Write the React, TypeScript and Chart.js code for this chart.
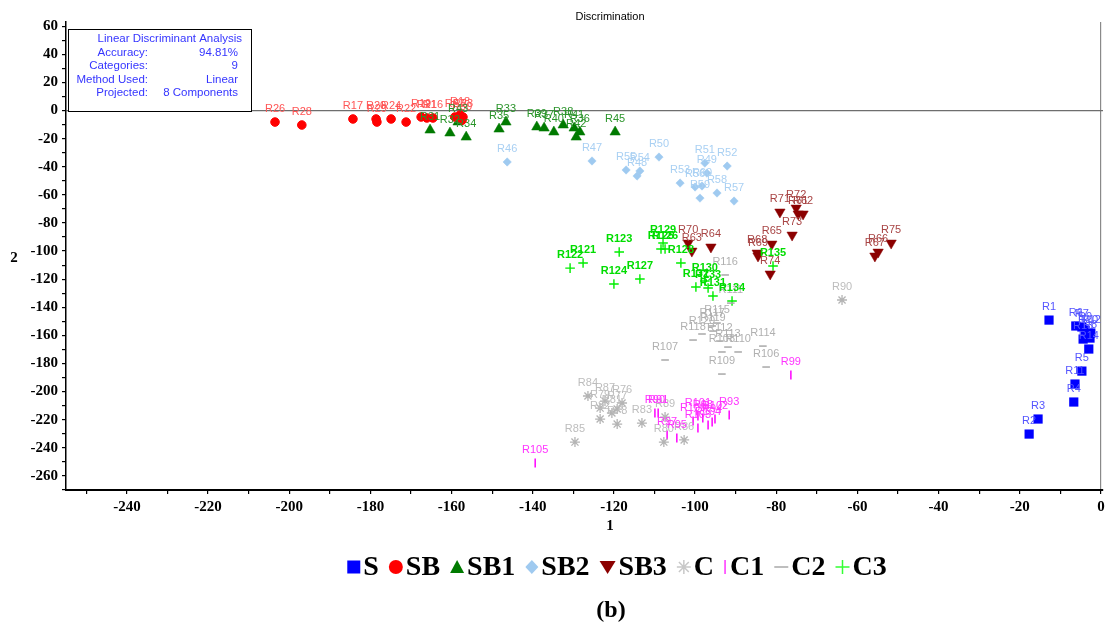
import React, { useEffect, useRef } from "react";
import { Chart, registerables } from "chart.js";

Chart.register(...registerables);

// ---------- DATA ----------
// S
const sNames = ["R1", "R6", "R7", "R9", "R10", "R12", "R13", "R8", "R14", "R5", "R11", "R4", "R3", "R2"];
const sX = [-12.8, -6.2, -4.7, -3.9, -3.2, -2.5, -4.4, -2.7, -3.0, -4.7, -6.4, -6.7, -15.5, -17.7];
const sY = [-149.1, -153.3, -154.0, -156.2, -158.3, -158.3, -162.6, -161.9, -169.7, -185.4, -194.6, -207.4, -219.5, -230.2];

// SB
const sbNames = ["R26", "R28", "R17", "R20", "R29", "R24", "R22", "R19", "R21", "R16", "R27", "R18", "R30", "R23"];
const sbX = [-203.5, -196.9, -184.3, -178.6, -178.4, -174.9, -171.2, -167.5, -166.1, -164.6, -159.2, -157.9, -157.4, -157.2];
const sbY = [-8.2, -10.3, -6.0, -6.0, -8.2, -6.0, -8.2, -4.6, -5.3, -5.3, -4.6, -3.2, -6.8, -4.6];

// SB1
const sb1Names = ["R31", "R32", "R43", "R34", "R35", "R33", "R39", "R37", "R40", "R38", "R41", "R42", "R36", "R45"];
const sb1X = [-165.3, -160.4, -158.4, -156.4, -148.3, -146.6, -139.0, -137.2, -134.8, -132.5, -129.8, -129.3, -128.4, -119.7];
const sb1Y = [-13.9, -16.0, -8.2, -18.9, -13.2, -8.2, -11.7, -12.5, -15.3, -10.3, -12.5, -18.9, -15.3, -15.3];

// SB2
const sb2Names = ["R46", "R47", "R50", "R55", "R48", "R54", "R53", "R51", "R49", "R52", "R56", "R60", "R59", "R58", "R57"];
const sb2X = [-146.3, -125.4, -108.9, -117.0, -114.3, -113.6, -103.7, -97.6, -97.1, -92.1, -100.0, -98.3, -98.8, -94.6, -90.4];
const sb2Y = [-36.6, -35.9, -33.1, -42.3, -46.6, -43.0, -51.6, -37.4, -44.5, -39.5, -54.4, -53.7, -62.3, -58.7, -64.4];

// SB3
const sb3Names = ["R70", "R63", "R64", "R65", "R73", "R68", "R69", "R74", "R75", "R66", "R67", "R71", "R72", "R61", "R62"];
const sb3X = [-101.7, -100.8, -96.1, -81.1, -76.1, -84.7, -84.5, -81.5, -51.7, -54.9, -55.7, -79.1, -75.1, -74.6, -73.4];
const sb3Y = [-94.3, -100.0, -97.1, -95.0, -88.6, -101.4, -103.5, -116.3, -94.3, -100.7, -103.5, -72.2, -69.4, -73.6, -73.6];

// C
const cNames = ["R90", "R84", "R87", "R76", "R79", "R81", "R77", "R82", "R78", "R83", "R85", "R80", "R86", "R89"];
const cX = [-63.8, -126.4, -122.2, -118.0, -123.4, -120.5, -119.2, -123.4, -119.2, -113.1, -129.6, -107.7, -102.7, -107.4];
const cY = [-134.8, -203.1, -206.7, -208.1, -211.7, -215.2, -212.4, -219.5, -223.1, -222.4, -235.9, -235.9, -234.4, -218.1];

// C1
const c1Names = ["R90", "R91", "R97", "R95", "R100", "R103", "R101", "R104", "R102", "R93", "R99", "R105", "R98", "R94"];
const c1X = [-109.9, -109.1, -106.9, -104.5, -100.5, -99.3, -99.3, -96.8, -95.1, -91.6, -76.4, -139.4, -98.1, -95.8];
const c1Y = [-215.2, -215.2, -230.9, -233.0, -220.9, -225.9, -217.4, -223.8, -219.5, -216.7, -188.2, -250.8, -218.8, -221.6];

// C2
const c2Names = ["R116", "R111", "R117", "R115", "R119", "R112", "R118", "R120", "R113", "R108", "R110", "R114", "R106", "R107", "R109"];
const c2X = [-92.6, -91.2, -95.8, -94.6, -95.6, -93.9, -100.5, -98.3, -91.9, -93.4, -89.4, -83.3, -82.5, -107.4, -93.4];
const c2Y = [-117.0, -137.0, -153.3, -151.2, -156.9, -164.0, -163.3, -159.0, -168.3, -171.8, -171.8, -167.6, -182.5, -177.5, -187.5];

// C3
const c3Names = ["R122", "R121", "R123", "R124", "R127", "R129", "R125", "R126", "R128", "R132", "R130", "R133", "R131", "R134", "R135"];
const c3X = [-130.8, -127.6, -118.7, -120.0, -113.6, -107.9, -108.4, -107.4, -103.5, -99.8, -97.6, -96.8, -95.6, -90.9, -80.8];
const c3Y = [-112.1, -108.5, -100.7, -123.4, -119.9, -94.3, -98.5, -98.5, -108.5, -125.6, -121.3, -126.3, -132.0, -135.5, -110.6];

const seriesNames = ["S", "SB", "SB1", "SB2", "SB3", "C", "C1", "C2", "C3"];

const infoTitle = "Linear Discriminant Analysis";
const infoKeys = ["Accuracy:", "Categories:", "Method Used:", "Projected:"];
const infoValues = ["94.81%", "9", "Linear", "8 Components"];

// ---------- STYLES ----------
type Series = {
  label: string;
  names: string[];
  xs: number[];
  ys: number[];
  style: string;
  radius: number;
  rot: number;
  fill: string;
  stroke: string;
  bw: number;
  labelColor: string;
  labelBold: boolean;
  legend: string;
};

const series: Series[] = [
  { label: seriesNames[0], names: sNames, xs: sX, ys: sY, style: "rect", radius: 6.5, rot: 0, fill: "#0000ff", stroke: "#0000ff", bw: 0, labelColor: "#5555ff", labelBold: false, legend: "square" },
  { label: seriesNames[1], names: sbNames, xs: sbX, ys: sbY, style: "circle", radius: 4.3, rot: 0, fill: "#ff0000", stroke: "#ff0000", bw: 1, labelColor: "#ff5555", labelBold: false, legend: "circle" },
  { label: seriesNames[2], names: sb1Names, xs: sb1X, ys: sb1Y, style: "triangle", radius: 6, rot: 0, fill: "#007a00", stroke: "#007a00", bw: 0.5, labelColor: "#2a942a", labelBold: false, legend: "tri" },
  { label: seriesNames[3], names: sb2Names, xs: sb2X, ys: sb2Y, style: "rectRot", radius: 4.2, rot: 0, fill: "#9fcaf0", stroke: "#9fcaf0", bw: 0.5, labelColor: "#a9d0f3", labelBold: false, legend: "diamond" },
  { label: seriesNames[4], names: sb3Names, xs: sb3X, ys: sb3Y, style: "triangle", radius: 6, rot: 180, fill: "#8b0000", stroke: "#8b0000", bw: 0.5, labelColor: "#a84444", labelBold: false, legend: "tridown" },
  { label: seriesNames[5], names: cNames, xs: cX, ys: cY, style: "star", radius: 5, rot: 0, fill: "#b4b4b4", stroke: "#b4b4b4", bw: 1.3, labelColor: "#bdbdbd", labelBold: false, legend: "star" },
  { label: seriesNames[6], names: c1Names, xs: c1X, ys: c1Y, style: "line", radius: 4.5, rot: 90, fill: "#ff00ff", stroke: "#ff00ff", bw: 1.5, labelColor: "#ff33ff", labelBold: false, legend: "vbar" },
  { label: seriesNames[7], names: c2Names, xs: c2X, ys: c2Y, style: "line", radius: 3.8, rot: 0, fill: "#a8a8a8", stroke: "#a8a8a8", bw: 1.5, labelColor: "#b0b0b0", labelBold: false, legend: "hbar" },
  { label: seriesNames[8], names: c3Names, xs: c3X, ys: c3Y, style: "cross", radius: 4.8, rot: 0, fill: "#00ff00", stroke: "#00ee00", bw: 1.4, labelColor: "#00dd00", labelBold: true, legend: "plus" },
];

const SERIF = '"Liberation Serif", "Times New Roman", serif';
const SANS = '"Liberation Sans", Arial, sans-serif';

function drawLegendMarker(ctx: CanvasRenderingContext2D, kind: string, x: number, y: number, color: string) {
  ctx.save();
  ctx.fillStyle = color;
  ctx.strokeStyle = color;
  ctx.beginPath();
  switch (kind) {
    case "square":
      ctx.fillRect(x, y - 6.5, 13, 13);
      break;
    case "circle":
      ctx.arc(x + 7, y, 7, 0, Math.PI * 2);
      ctx.fill();
      break;
    case "tri":
      ctx.moveTo(x + 7, y - 7);
      ctx.lineTo(x + 14, y + 6);
      ctx.lineTo(x, y + 6);
      ctx.closePath();
      ctx.fill();
      break;
    case "diamond":
      ctx.moveTo(x + 6.5, y - 7);
      ctx.lineTo(x + 13, y);
      ctx.lineTo(x + 6.5, y + 7);
      ctx.lineTo(x, y);
      ctx.closePath();
      ctx.fill();
      break;
    case "tridown":
      ctx.moveTo(x, y - 6);
      ctx.lineTo(x + 16, y - 6);
      ctx.lineTo(x + 8, y + 7);
      ctx.closePath();
      ctx.fill();
      break;
    case "star": {
      ctx.lineWidth = 1.5;
      const cx = x + 7;
      for (let k = 0; k < 4; k++) {
        const a = (k * Math.PI) / 4;
        ctx.moveTo(cx - Math.cos(a) * 7, y - Math.sin(a) * 7);
        ctx.lineTo(cx + Math.cos(a) * 7, y + Math.sin(a) * 7);
      }
      ctx.stroke();
      break;
    }
    case "vbar":
      ctx.lineWidth = 1.5;
      ctx.moveTo(x + 1, y - 7);
      ctx.lineTo(x + 1, y + 7);
      ctx.stroke();
      break;
    case "hbar":
      ctx.lineWidth = 1.5;
      ctx.moveTo(x, y);
      ctx.lineTo(x + 14, y);
      ctx.stroke();
      break;
    case "plus":
      ctx.lineWidth = 1.5;
      ctx.moveTo(x, y);
      ctx.lineTo(x + 14, y);
      ctx.moveTo(x + 7, y - 7);
      ctx.lineTo(x + 7, y + 7);
      ctx.stroke();
      break;
  }
  ctx.restore();
}

const markerWidth: Record<string, number> = {
  square: 13, circle: 14, tri: 14, diamond: 13, tridown: 16, star: 14, vbar: 3, hbar: 14, plus: 14,
};

const legendColor: Record<string, string> = {
  square: "#0000ff", circle: "#ff0000", tri: "#007a00", diamond: "#9fcaf0", tridown: "#8b0000",
  star: "#c8c8c8", vbar: "#ff33ff", hbar: "#a8a8a8", plus: "#33ff33",
};

const decorPlugin = {
  id: "decor",
  afterDatasetsDraw(chart: any) {
    const ctx: CanvasRenderingContext2D = chart.ctx;
    ctx.save();
    ctx.textAlign = "center";
    ctx.textBaseline = "middle";
    chart.data.datasets.forEach((ds: any, i: number) => {
      const meta = chart.getDatasetMeta(i);
      ctx.fillStyle = ds.labelColor;
      ctx.font = (ds.labelBold ? "bold " : "") + "11px " + SANS;
      meta.data.forEach((el: any, j: number) => {
        ctx.fillText(ds.names[j], el.x, el.y - 13);
      });
    });
    ctx.restore();
  },
  afterDraw(chart: any) {
    const ctx: CanvasRenderingContext2D = chart.ctx;
    ctx.save();
    // title
    ctx.fillStyle = "#000";
    ctx.font = "11px " + SANS;
    ctx.textAlign = "center";
    ctx.textBaseline = "middle";
    ctx.fillText("Discrimination", 610, 17);

    // axis titles
    ctx.font = "bold 15px " + SERIF;
    ctx.fillText("2", 14, 258);
    ctx.fillText("1", 610, 526);

    // info box
    ctx.fillStyle = "#fff";
    ctx.fillRect(68, 29, 183, 82);
    ctx.strokeStyle = "#000";
    ctx.lineWidth = 1;
    ctx.strokeRect(68.5, 29.5, 183, 82);
    ctx.fillStyle = "#3535ff";
    ctx.font = "11.5px " + SANS;
    ctx.textAlign = "right";
    ctx.fillText(infoTitle, 242, 39);
    const rowsY = [52.5, 66, 79.5, 93];
    infoKeys.forEach((k, i) => {
      ctx.fillText(k, 148, rowsY[i]);
      ctx.fillText(infoValues[i], 238, rowsY[i]);
    });

    // legend
    ctx.font = "bold 28px " + SERIF;
    ctx.textAlign = "left";
    ctx.textBaseline = "middle";
    const gapM = 3;
    const gapI = 10;
    let total = 0;
    series.forEach((s, i) => {
      total += markerWidth[s.legend] + gapM + ctx.measureText(s.label).width;
      if (i < series.length - 1) total += gapI;
    });
    let x = 617 - total / 2;
    const ly = 567;
    series.forEach((s) => {
      drawLegendMarker(ctx, s.legend, x, ly, legendColor[s.legend]);
      x += markerWidth[s.legend] + gapM;
      ctx.fillStyle = "#000";
      ctx.fillText(s.label, x, ly + 1);
      x += ctx.measureText(s.label).width + gapI;
    });

    // (b)
    ctx.font = "bold 24px " + SERIF;
    ctx.textAlign = "center";
    ctx.fillText("(b)", 611, 611);
    ctx.restore();
  },
};

export default function App() {
  const canvasRef = useRef<HTMLCanvasElement | null>(null);

  useEffect(() => {
    if (!canvasRef.current) return;
    const datasets = series.map((s) => ({
      label: s.label,
      data: s.xs.map((x, i) => ({ x, y: s.ys[i] })),
      pointStyle: s.style,
      pointRadius: s.radius,
      pointRotation: s.rot,
      pointBackgroundColor: s.fill,
      pointBorderColor: s.stroke,
      pointBorderWidth: s.bw,
      showLine: false,
      names: s.names,
      labelColor: s.labelColor,
      labelBold: s.labelBold,
    }));

    const tickFont = { family: SERIF, size: 15, weight: "bold" as const };

    const chart = new Chart(canvasRef.current, {
      type: "scatter",
      data: { datasets } as any,
      options: {
        animation: false,
        responsive: false,
        devicePixelRatio: 1,
        events: [],
        layout: { padding: { top: 22, right: 7, left: 0, bottom: 0 } },
        plugins: {
          legend: { display: false },
          title: { display: false },
          tooltip: { enabled: false },
        },
        scales: {
          x: {
            type: "linear",
            min: -255,
            max: 0.5,
            afterFit: (s: any) => {
              s.height = 136;
            },
            border: { display: true, color: "#000", width: 2 },
            grid: {
              drawOnChartArea: true,
              color: (c: any) => (c.tick && c.tick.value === 0 ? "#8a8a8a" : "rgba(0,0,0,0)"),
              tickColor: "#000",
              tickLength: 4,
              lineWidth: 1.2,
            },
            ticks: {
              stepSize: 10,
              autoSkip: false,
              includeBounds: false,
              maxRotation: 0,
              minRotation: 0,
              padding: 4,
              color: "#000",
              font: tickFont,
              callback: (v: any) => (Number(v) % 20 === 0 ? String(v) : ""),
            },
          },
          y: {
            type: "linear",
            min: -270,
            max: 63,
            afterFit: (s: any) => {
              s.width = 66;
            },
            border: { display: true, color: "#000", width: 1.5 },
            grid: {
              drawOnChartArea: true,
              color: (c: any) => (c.tick && c.tick.value === 0 ? "#6e6e6e" : "rgba(0,0,0,0)"),
              tickColor: "#000",
              tickLength: 4,
              lineWidth: 1.2,
            },
            ticks: {
              stepSize: 10,
              autoSkip: false,
              includeBounds: false,
              padding: 4,
              color: "#000",
              font: tickFont,
              callback: (v: any) => (Number(v) % 20 === 0 ? String(v) : ""),
            },
          },
        },
      } as any,
      plugins: [decorPlugin],
    });
    return () => chart.destroy();
  }, []);

  return (
    <div style={{ position: "absolute", left: 0, top: 0, width: 1110, height: 626, background: "#fff" }}>
      <canvas ref={canvasRef} width={1110} height={626} style={{ display: "block" }} />
    </div>
  );
}
